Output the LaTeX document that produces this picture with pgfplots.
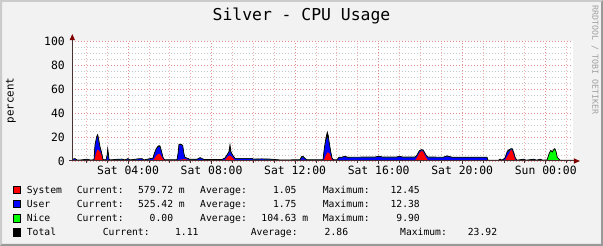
\documentclass[border=0pt]{standalone}
\usepackage{fontspec}
\setmainfont{DejaVu Sans Mono}
\setmonofont{DejaVu Sans Mono}
\usepackage{pgfplots}
\usepackage{pgfplotstable}
\pgfplotsset{compat=1.18}
\usetikzlibrary{arrows.meta}

\definecolor{bgc}{RGB}{242,242,242}
\definecolor{shadea}{RGB}{203,203,203}
\definecolor{shadeb}{RGB}{153,153,153}
\definecolor{gridmaj}{RGB}{228,140,140}
\definecolor{gridmin}{RGB}{200,200,200}
\definecolor{axc}{RGB}{70,50,50}
\definecolor{arrowc}{RGB}{128,0,0}
\definecolor{wmc}{RGB}{160,160,160}

\pgfplotstableread{
h sys usr nice tot
1.331 0.3 0.8 0 1.5
1.460 0.4 1.3 0 2.0
1.556 0.2 0.3 0 0.8
1.700 0.2 0.3 0 0.8
2.035 0.3 0.9 0 1.5
2.179 0.2 0.4 0 0.9
2.370 0.3 0.5 0 1.0
2.418 3.0 9.0 0 13.5
2.499 8.0 11.0 0 20.5
2.547 9.5 11.0 0 22.0
2.595 9.0 6.5 0 18.0
2.657 7.5 3.0 0 12.0
2.720 5.5 1.8 0 8.0
2.768 2.5 1.0 0 4.0
2.801 0.4 0.5 0 1.2
2.945 0.3 0.5 0 1.0
3.000 0.8 2.5 0 5.0
3.026 1.0 5.0 0 10.2
3.060 0.8 3.0 0 6.0
3.088 0.3 0.8 0 1.5
3.136 0.2 0.5 0 0.9
3.519 0.3 0.9 0 1.5
3.711 0.3 1.0 0 1.6
3.854 0.2 0.4 0 0.9
3.998 0.3 1.3 0 2.0
4.094 0.2 0.4 0 0.9
4.477 0.3 1.2 0 1.8
4.668 0.3 1.3 0 2.0
4.764 0.2 0.4 0 0.9
5.195 0.5 1.5 0 2.5
5.243 1.5 3.5 0 5.5
5.339 4.0 5.0 0 10.0
5.420 5.5 5.5 0 12.0
5.482 6.0 6.0 0 12.8
5.530 5.8 5.5 0 12.5
5.612 3.5 3.5 0 7.5
5.674 1.5 1.0 0 3.0
5.750 0.3 0.5 0 1.0
6.009 0.3 0.6 0 1.0
6.344 0.3 0.6 0 1.0
6.400 0.5 6.0 0 7.0
6.440 1.0 12.5 0 14.0
6.536 1.2 12.0 0 14.0
6.617 1.3 11.0 0 13.0
6.679 1.5 3.5 0 6.0
6.727 1.5 1.0 0 3.0
6.871 1.0 0.8 0 2.2
6.950 0.3 0.8 0 1.4
7.302 0.3 1.0 0 1.5
7.446 0.4 2.0 0 2.8
7.541 0.3 1.5 0 2.0
7.637 0.3 0.8 0 1.3
8.500 0.3 0.8 0 1.3
8.643 0.8 1.5 0 2.5
8.738 3.0 1.5 0 5.0
8.834 4.5 2.5 0 8.0
8.882 4.5 4.0 0 13.5
8.930 4.0 2.5 0 7.5
9.026 2.5 1.5 0 4.5
9.121 0.4 1.5 0 2.2
9.935 0.3 1.6 0 2.2
9.983 0.3 1.0 0 1.6
10.400 0.3 1.2 0 1.8
10.797 0.3 1.0 0 1.6
11.276 0.3 0.4 0 0.9
12.233 0.3 0.6 0 1.0
12.300 0.5 2.0 0 3.5
12.377 1.2 2.0 0 4.0
12.450 0.5 1.5 0 2.5
12.569 0.3 0.6 0 1.0
13.335 0.3 0.6 0 1.0
13.397 1.5 8.0 0 10.5
13.479 5.0 12.0 0 19.5
13.541 7.0 12.5 0 24.0
13.589 7.0 11.5 0 21.0
13.637 6.5 7.5 0 15.0
13.704 4.0 3.5 0 8.0
13.766 1.0 1.0 0 2.5
13.850 0.3 0.5 0 1.0
14.005 0.3 0.5 0 1.0
14.100 0.5 2.5 0 3.2
14.245 0.4 2.5 0 3.2
14.388 0.5 3.0 0 4.0
14.500 0.4 2.5 0 3.2
15.825 0.4 2.6 0 3.3
16.000 0.5 3.0 0 4.0
16.200 0.4 2.6 0 3.3
16.850 0.4 2.6 0 3.3
17.000 0.5 3.0 0 4.0
17.150 0.4 2.6 0 3.3
17.740 0.5 2.5 0 3.3
17.821 2.5 1.5 0 4.5
17.945 6.5 1.5 0 8.5
18.061 8.5 0.5 0 9.5
18.137 7.5 1.0 0 9.0
18.267 3.0 1.5 0 5.0
18.363 0.5 2.5 0 3.3
19.100 0.4 2.6 0 3.2
19.272 0.5 3.3 0 4.3
19.512 0.4 2.6 0 3.2
21.187 0.4 2.6 0 3.2
21.235 0.2 0.3 0 0.7
21.750 0.2 0.3 0 0.7
21.810 0.3 1.0 0 1.6
21.900 0.2 0.3 0 0.7
22.049 0.5 1.5 0 2.5
22.159 4.0 3.5 0 8.0
22.241 6.0 2.0 0 9.4
22.337 9.5 0.3 0 10.3
22.399 8.5 1.0 0 10.2
22.480 4.0 1.5 0 6.5
22.543 1.0 1.0 0 2.5
22.624 0.2 0.3 0 0.7
22.950 0.3 1.0 0 1.5
23.050 0.2 0.3 0 0.7
23.450 0.3 1.0 0 1.5
23.550 0.2 0.3 0 0.7
23.750 0.3 1.0 0 1.5
23.850 0.2 0.3 0 0.7
24.061 0.3 0.4 0 0.9
24.171 0.3 0.4 5.5 6.5
24.238 0.3 0.4 7.8 8.8
24.314 0.3 0.4 6.5 7.5
24.362 0.3 0.4 8.0 9.0
24.433 0.3 0.4 9.4 10.3
24.492 0.3 0.4 7.0 8.0
24.553 0.3 0.4 2.0 3.0
24.683 0.2 0.3 0 0.7
25.320 0.2 0.3 0 0.7
}\cpu
\pgfplotstablecreatecol[expr={\thisrow{sys}+\thisrow{usr}}]{su}{\cpu}
\pgfplotstablecreatecol[expr={\thisrow{sys}+\thisrow{usr}+\thisrow{nice}}]{sun}{\cpu}

\begin{document}
\begin{tikzpicture}[x=1pt,y=1pt,
  lt/.style={font=\fontsize{9.7}{11}\selectfont, inner sep=0pt}]
\fill[bgc] (0,0) rectangle (603,246);
\fill[shadea] (0,0) -- (0,246) -- (603,246) -- (601,244) -- (2,244) -- (2,2) -- cycle;
\fill[shadeb] (0,0) -- (603,0) -- (603,246) -- (601,244) -- (601,2) -- (2,2) -- cycle;

\begin{axis}[at={(72.3pt,85pt)}, anchor=south west,
  width=501pt, height=120pt, scale only axis,
  xmin=1.331, xmax=25.32, ymin=0, ymax=100,
  clip=false, no markers,
  axis background/.style={fill=white},
  axis line style={draw=none},
  tick pos=left, tick align=outside,
  major tick length=0pt, minor tick length=0pt,
  xtick={4,8,12,16,20,24},
  xticklabels={Sat 04:00,Sat 08:00,Sat 12:00,Sat 16:00,Sat 20:00,Sun 00:00},
  minor xtick={2,3,5,6,7,9,10,11,13,14,15,17,18,19,21,22,23,25},
  ytick={0,20,40,60,80,100},
  yticklabels={0,20,40,60,80,100},
  minor ytick={5,10,15,25,30,35,45,50,55,65,70,75,85,90,95},
  grid=both,
  major grid style={gridmaj, line width=0.8pt, dash pattern=on 1pt off 2pt},
  minor x grid style={gridmaj!70!white, line width=0.8pt, dash pattern=on 1pt off 2pt},
  minor y grid style={gridmin, line width=0.8pt, dash pattern=on 1pt off 2pt},
  xticklabel style={font=\fontsize{11.4}{12}\selectfont, inner sep=0pt, anchor=base, yshift=-13.5pt},
  yticklabel style={font=\fontsize{11.4}{12}\selectfont, inner sep=0pt, anchor=east, xshift=-7.3pt},
  /pgf/number format/assume math mode=true,
]
\addplot[fill=black, draw=none] table[x=h,y=tot]{\cpu} \closedcycle;
\addplot[fill=green, draw=none] table[x=h,y=sun]{\cpu} \closedcycle;
\addplot[fill=blue, draw=none] table[x=h,y=su]{\cpu} \closedcycle;
\addplot[fill=red, draw=none] table[x=h,y=sys]{\cpu} \closedcycle;
\addplot[black, line width=0.7pt] table[x=h,y=tot]{\cpu};
\pgfplotsinvokeforeach{2,3,5,6,7,9,10,11,13,14,15,17,18,19,21,22,23,25}{
  \draw[axc, line width=0.8pt] (axis cs:#1,0) -- ([yshift=-2pt]axis cs:#1,0);}
\pgfplotsinvokeforeach{4,8,12,16,20,24}{
  \draw[axc, line width=0.8pt] (axis cs:#1,0) -- ([yshift=-3pt]axis cs:#1,0);}
\draw[axc, line width=1pt, -{Triangle[length=6pt,width=5pt,color=arrowc]}] (axis cs:1.331,0) -- (axis cs:1.331,105.8);
\draw[axc, line width=1pt, -{Triangle[length=6pt,width=5pt,color=arrowc]}] ([xshift=-3pt]axis cs:1.331,0) -- (axis cs:25.64,0);
\end{axis}

\node[anchor=base, font=\fontsize{16.4}{18}\selectfont] at (301.5,225) {Silver - CPU Usage};
\node[rotate=90, font=\fontsize{10.8}{12}\selectfont] at (11,145.5) {percent};
\node[rotate=-90, font=\fontsize{8.3}{9}\selectfont, text=wmc] at (595,186) {RRDTOOL / TOBI OETIKER};

% legend row 1
\fill[red, draw=black, line width=0.6pt] (13.5,52.3) rectangle (20.7,59.5);
\node[lt, anchor=base west] at (26.7,52.7) {System};
\node[lt, anchor=base west] at (76.7,52.7) {Current:};
\node[lt, anchor=base east] at (185,52.7) {579.72 m};
\node[lt, anchor=base west] at (200,52.7) {Average:};
\node[lt, anchor=base east] at (296.7,52.7) {1.05};
\node[lt, anchor=base west] at (322.7,52.7) {Maximum:};
\node[lt, anchor=base east] at (420,52.7) {12.45};
% row 2
\fill[blue, draw=black, line width=0.6pt] (13.5,38.2) rectangle (20.7,45.4);
\node[lt, anchor=base west] at (26.7,38.6) {User};
\node[lt, anchor=base west] at (76.7,38.6) {Current:};
\node[lt, anchor=base east] at (185,38.6) {525.42 m};
\node[lt, anchor=base west] at (200,38.6) {Average:};
\node[lt, anchor=base east] at (296.7,38.6) {1.75};
\node[lt, anchor=base west] at (322.7,38.6) {Maximum:};
\node[lt, anchor=base east] at (420,38.6) {12.38};
% row 3
\fill[green, draw=black, line width=0.6pt] (13.5,24.1) rectangle (20.7,31.3);
\node[lt, anchor=base west] at (26.7,24.5) {Nice};
\node[lt, anchor=base west] at (76.7,24.5) {Current:};
\node[lt, anchor=base east] at (173.3,24.5) {0.00};
\node[lt, anchor=base west] at (200,24.5) {Average:};
\node[lt, anchor=base east] at (308.4,24.5) {104.63 m};
\node[lt, anchor=base west] at (322.7,24.5) {Maximum:};
\node[lt, anchor=base east] at (420,24.5) {9.90};
% row 4
\fill[black, draw=black, line width=0.6pt] (13.5,10.0) rectangle (20.7,17.2);
\node[lt, anchor=base west] at (26.7,10.4) {Total};
\node[lt, anchor=base west] at (102.7,10.4) {Current:};
\node[lt, anchor=base east] at (198.7,10.4) {1.11};
\node[lt, anchor=base west] at (250.7,10.4) {Average:};
\node[lt, anchor=base east] at (348.3,10.4) {2.86};
\node[lt, anchor=base west] at (400,10.4) {Maximum:};
\node[lt, anchor=base east] at (497.3,10.4) {23.92};

\pgfresetboundingbox
\path (0,0) rectangle (603,246);
\end{tikzpicture}
\end{document}
